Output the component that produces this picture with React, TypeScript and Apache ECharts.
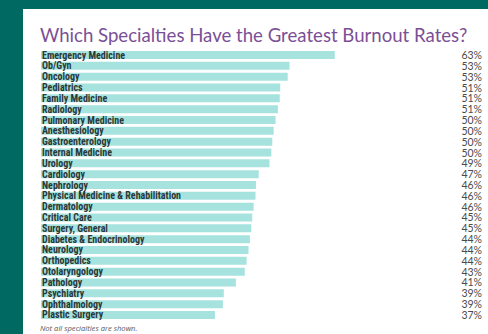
import React, { useEffect, useRef } from "react";
import * as echarts from "echarts";

const specialties = [
  "Emergency Medicine",
  "Ob/Gyn",
  "Oncology",
  "Pediatrics",
  "Family Medicine",
  "Radiology",
  "Pulmonary Medicine",
  "Anesthesiology",
  "Gastroenterology",
  "Internal Medicine",
  "Urology",
  "Cardiology",
  "Nephrology",
  "Physical Medicine & Rehabilitation",
  "Dermatology",
  "Critical Care",
  "Surgery, General",
  "Diabetes & Endocrinology",
  "Neurology",
  "Orthopedics",
  "Otolaryngology",
  "Pathology",
  "Psychiatry",
  "Ophthalmology",
  "Plastic Surgery",
];

const burnoutPct = [63, 53, 53, 51, 51, 51, 50, 50, 50, 50, 49, 47, 46, 46, 46, 45, 45, 44, 44, 44, 43, 41, 39, 39, 37];

// bar lengths as drawn (slight differences between equal rounded values)
const barValues = [63, 53.3, 52.9, 51.3, 51.2, 50.8, 50.3, 49.9, 49.6, 49.4, 49.0, 46.7, 46.1, 46.0, 45.6, 45.3, 45.1, 44.8, 44.5, 44.1, 43.7, 41.8, 39.2, 39.0, 37.3];

const percentLabels = burnoutPct.map((v) => v + "%");

const titleText = "Which Specialties Have the Greatest Burnout Rates?";
const footnote = "Not all specialties are shown.";

export default function App() {
  const ref = useRef<HTMLDivElement>(null);
  useEffect(() => {
    if (!ref.current) return;
    const chart = echarts.init(ref.current, undefined, { renderer: "svg" });
    chart.setOption({
      animation: false,
      backgroundColor: "#006a62",
      graphic: [
        {
          type: "rect",
          z: -10,
          shape: { x: 23, y: 9, width: 470, height: 330 },
          style: { fill: "#ffffff" },
        },
        {
          type: "text",
          left: 40,
          top: 25,
          style: {
            text: titleText,
            fill: "#7b4f96",
            font: "18.6px Lato, 'Open Sans', sans-serif",
          },
        },
        {
          type: "text",
          left: 40,
          top: 324,
          style: {
            text: footnote,
            fill: "#5a5a5a",
            font: "italic 7.6px 'Open Sans', sans-serif",
          },
        },
      ],
      grid: { left: 41, right: 18, top: 49.6, bottom: 13.6, containLabel: false },
      xAxis: {
        type: "value",
        min: 0,
        max: 92,
        show: false,
      },
      yAxis: [
        {
          type: "category",
          data: specialties,
          inverse: true,
          axisLine: { show: false },
          axisTick: { show: false },
          axisLabel: {
            interval: 0,
            inside: true,
            margin: 1,
            color: "#2b3737",
            fontWeight: "bold",
            fontSize: 10,
            fontFamily: "'Roboto Condensed', 'DejaVu Sans Condensed', 'Liberation Sans Narrow', sans-serif",
          },
          z: 5,
        },
        {
          type: "category",
          data: percentLabels,
          inverse: true,
          position: "right",
          axisLine: { show: false },
          axisTick: { show: false },
          axisLabel: {
            interval: 0,
            align: "right",
            margin: 12,
            color: "#4a4a4a",
            fontSize: 10.5,
            fontFamily: "Lato, sans-serif",
          },
        },
      ],
      series: [
        {
          type: "bar",
          data: barValues,
          barWidth: 8,
          itemStyle: { color: "#a6e3de" },
          z: 2,
        },
      ],
    });
    return () => chart.dispose();
  }, []);
  return (
    <div
      ref={ref}
      style={{ position: "fixed", left: 0, top: 0, width: 488, height: 334 }}
    />
  );
}
